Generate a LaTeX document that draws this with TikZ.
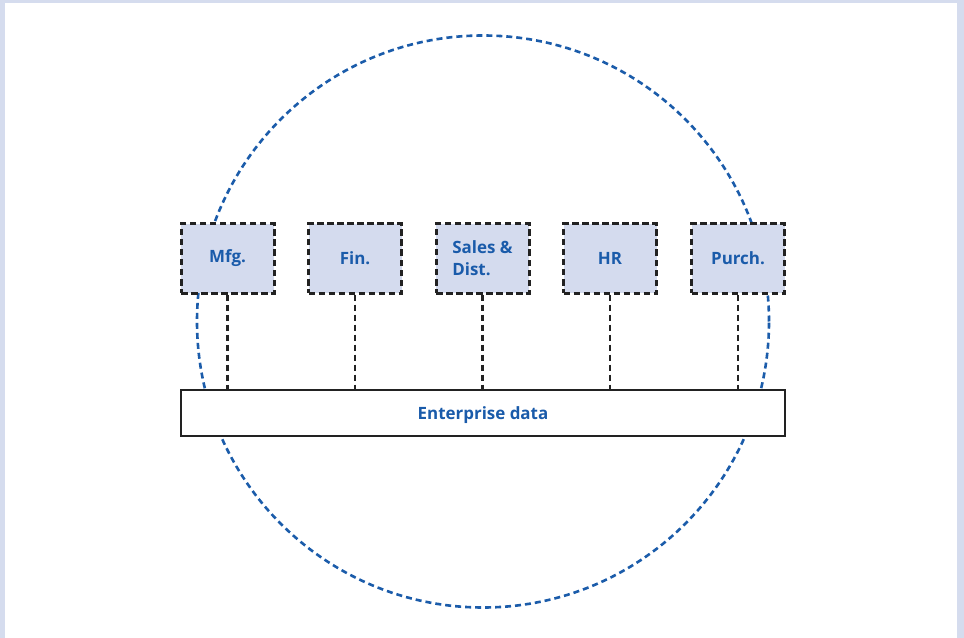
\documentclass[tikz,border=0pt]{standalone}
\usepackage{fontspec}
\setmainfont{Open Sans}
\definecolor{panelbg}{HTML}{D5DCEE}
\definecolor{unitfill}{HTML}{D4DBEE}
\definecolor{textblue}{HTML}{1A5BAA}
\definecolor{ringblue}{HTML}{1B5CAA}
\definecolor{edge}{HTML}{222222}
\tikzset{
  unit/.style={draw=edge, line width=3bp, dash pattern=on 6.5bp off 3.5bp,
    fill=unitfill, minimum width=93bp, minimum height=69bp, inner sep=0pt,
    font=\fontsize{17}{22}\selectfont\bfseries, text=textblue, align=left},
  store/.style={draw=edge, line width=2.8bp, fill=white,
    minimum width=604bp, minimum height=46bp, inner sep=0pt,
    text height=12.5bp, text depth=0pt,
    font=\fontsize{17}{22}\selectfont\bfseries, text=textblue},
  link/.style={draw=edge, line width=2.8bp, dash pattern=on 6.5bp off 3.5bp},
  ring/.style={draw=ringblue, line width=2.6bp, dash pattern=on 6bp off 4bp}
}
\begin{document}
\begin{tikzpicture}[x=1bp, y=-1bp]
  % panel background and white page
  \fill[panelbg] (0,0) rectangle (964,638);
  \fill[white] (5,3) rectangle (957,638);
  \useasboundingbox (0,0) rectangle (964,638);

  % dashed ring behind the units
  \draw[ring] (483,321.5) circle[radius=286bp];

  % functional units
  \node[unit] (mfg)   at (227.5,258.5) {Mfg.};
  \node[unit] (fin)   at (355,258.5)   {Fin.};
  \node[unit] (sales) at (482.5,258.5) {Sales \&\\Dist.};
  \node[unit] (hr)    at (610,258.5)   {HR};
  \node[unit] (purch) at (738,258.5)   {Purch.};

  % shared data store
  \node[store] (ent) at (483,413) {Enterprise data};

  % links from each unit to the data store
  \foreach \u in {mfg,fin,sales,hr,purch}
    \draw[link] (\u.south) -- (\u.south |- ent.north);
\end{tikzpicture}
\end{document}
